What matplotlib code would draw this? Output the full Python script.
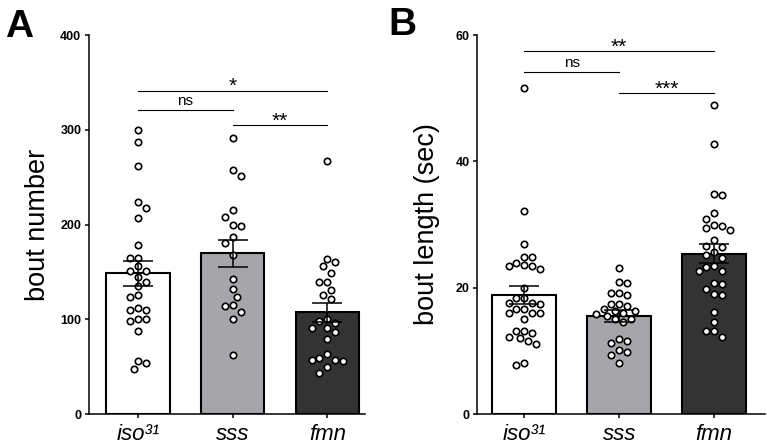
# bar + scatter plots of sleep bouts for three genotypes
import numpy as np
import matplotlib
matplotlib.use('Agg')
import matplotlib.pyplot as plt

plt.rcParams['font.family'] = ['Liberation Sans', 'DejaVu Sans']

# genotype labels
genotypes = ['iso³¹', 'sss', 'fmn']

# panel A - bout number per fly
bout_number_iso = [300, 287, 262, 224, 217, 207, 178, 165, 165, 156, 151, 151, 145, 139,
                   135, 126, 124, 112, 110, 110, 100, 98, 100, 88, 56, 48, 54]
bout_number_sss = [291, 258, 251, 215, 208, 200, 198, 187, 181, 168, 142, 132, 124, 115,
                   114, 108, 100, 62]
bout_number_fmn = [267, 164, 160, 156, 149, 139, 139, 131, 126, 121, 100, 96, 98, 91, 91,
                   87, 79, 59, 63, 57, 56, 57, 50, 43]
bout_number_mean = [148.5, 169.5, 107.5]
bout_number_sem = [13.2, 14.6, 10.0]

# panel B - bout length (sec) per fly
bout_length_iso = [51.6, 32.1, 26.9, 24.9, 24.9, 23.9, 23.65, 23.5, 23.5, 22.9, 19.9, 18.4,
                   18.4, 17.6, 17.6, 17.4, 16.6, 16.6, 16.0, 16.0, 16.0, 15.1, 13.1, 13.1,
                   12.8, 12.2, 12.0, 11.6, 11.1, 8.0, 7.8]
bout_length_sss = [23.1, 20.9, 20.8, 19.2, 18.8, 19.1, 17.4, 17.1, 17.4, 16.3, 16.0, 16.6,
                   16.3, 15.8, 15.5, 15.0, 15.0, 14.6, 11.8, 11.3, 11.5, 9.8, 10.2, 9.3, 8.0]
bout_length_fmn = [48.9, 42.7, 34.8, 34.6, 31.8, 30.9, 30.0, 29.5, 29.1, 29.7, 27.5, 26.5,
                   26.6, 25.6, 25.1, 24.7, 23.5, 22.6, 22.7, 23.3, 20.7, 20.6, 19.8, 18.9,
                   19.0, 16.1, 14.5, 13.2, 13.2, 12.2]
bout_length_mean = [18.8, 15.5, 25.4]
bout_length_sem = [1.4, 0.95, 1.5]

# significance comparisons: (group a, group b, height, label)
sig_a = [(0, 2, 341, '*'), (0, 1, 321, 'ns'), (1, 2, 305, '**')]
sig_b = [(0, 2, 57.4, '**'), (0, 1, 54.1, 'ns'), (1, 2, 50.8, '***')]

bar_colors = ['white', '#a6a6aa', '#333333']


def swarm_offsets(ax, x0, values, d=7.8):
    # simple beeswarm in pixel space, returns x positions in data units
    values = np.asarray(values, dtype=float)
    pix = ax.transData.transform(np.column_stack([np.full(len(values), x0), values]))
    ys = pix[:, 1]
    px_per_x = ax.transData.transform((1, 0))[0] - ax.transData.transform((0, 0))[0]
    step = d / 2.0
    placed = []
    offs = np.zeros(len(values))
    flip = 1
    for i in np.argsort(-values):
        k = 0
        while True:
            cands = [0.0] if k == 0 else [flip * k * step, -flip * k * step]
            found = None
            for c in cands:
                if all((c - ox) ** 2 + (ys[i] - oy) ** 2 >= d ** 2 for ox, oy in placed):
                    found = c
                    break
            if found is not None:
                break
            k += 1
        if found != 0:
            flip = -flip
        placed.append((found, ys[i]))
        offs[i] = found
    return x0 + offs / px_per_x


def draw_panel(ax, groups, means, sems, ymax, yticks, ylabel, sig, sig_size):
    x = np.arange(len(groups))
    ax.set_ylim(0, ymax)
    ax.bar(x, means, width=0.67, color=bar_colors, edgecolor='black', linewidth=1.5, zorder=1)
    for i, vals in enumerate(groups):
        xs = swarm_offsets(ax, x[i], vals)
        ax.plot(xs, vals, 'o', ms=4.6, mfc='white', mec='black', mew=1.2, zorder=2)
    ax.errorbar(x, means, yerr=sems, fmt='none', ecolor='black', elinewidth=1.1,
                capsize=11, capthick=1.1, zorder=3)

    # significance lines
    for a, b, h, lab in sig:
        ax.plot([x[a], x[b]], [h, h], color='black', lw=0.8, clip_on=False)
        if lab == 'ns':
            ax.text((x[a] + x[b]) / 2, h + ymax * 0.006, lab, ha='center', va='bottom', fontsize=11)
        else:
            ax.text((x[a] + x[b]) / 2, h - ymax * 0.014, lab, ha='center', va='bottom',
                    fontsize=sig_size)

    ax.spines['top'].set_visible(False)
    ax.spines['right'].set_visible(False)
    ax.spines['left'].set_linewidth(1.1)
    ax.spines['bottom'].set_linewidth(1.1)
    ax.set_yticks(yticks, labels=[str(t) for t in yticks], fontweight='bold')
    ax.tick_params(axis='y', length=3, width=1.1, pad=2.5, labelsize=9)
    ax.set_xticks(x, labels=genotypes, fontstyle='italic')
    ax.tick_params(axis='x', length=3, width=1.1, pad=4, labelsize=16)
    ax.set_ylabel(ylabel, fontsize=19.5, va='center')


fig = plt.figure(figsize=(7.67, 4.46), dpi=100)

# panel A
ax1 = fig.add_axes([0.116, 0.0717, 0.360, 0.8498])
ax1.set_xlim(-0.52, 2.40)
draw_panel(ax1, [bout_number_iso, bout_number_sss, bout_number_fmn], bout_number_mean,
           bout_number_sem, 400, [0, 100, 200, 300, 400], 'bout number', sig_a, 15)
ax1.yaxis.set_label_coords(-0.185, 0.5)

# panel B
ax2 = fig.add_axes([0.622, 0.0717, 0.376, 0.8498])
ax2.set_xlim(-0.495, 2.54)
draw_panel(ax2, [bout_length_iso, bout_length_sss, bout_length_fmn], bout_length_mean,
           bout_length_sem, 60, [0, 20, 40, 60], 'bout length (sec)', sig_b, 15)
ax2.yaxis.set_label_coords(-0.172, 0.5)

# panel letters
fig.text(0.006, 0.918, 'A', fontsize=28, fontweight='bold', va='baseline')
fig.text(0.506, 0.9215, 'B', fontsize=28, fontweight='bold', va='baseline')

plt.savefig('out.png', dpi=100)
